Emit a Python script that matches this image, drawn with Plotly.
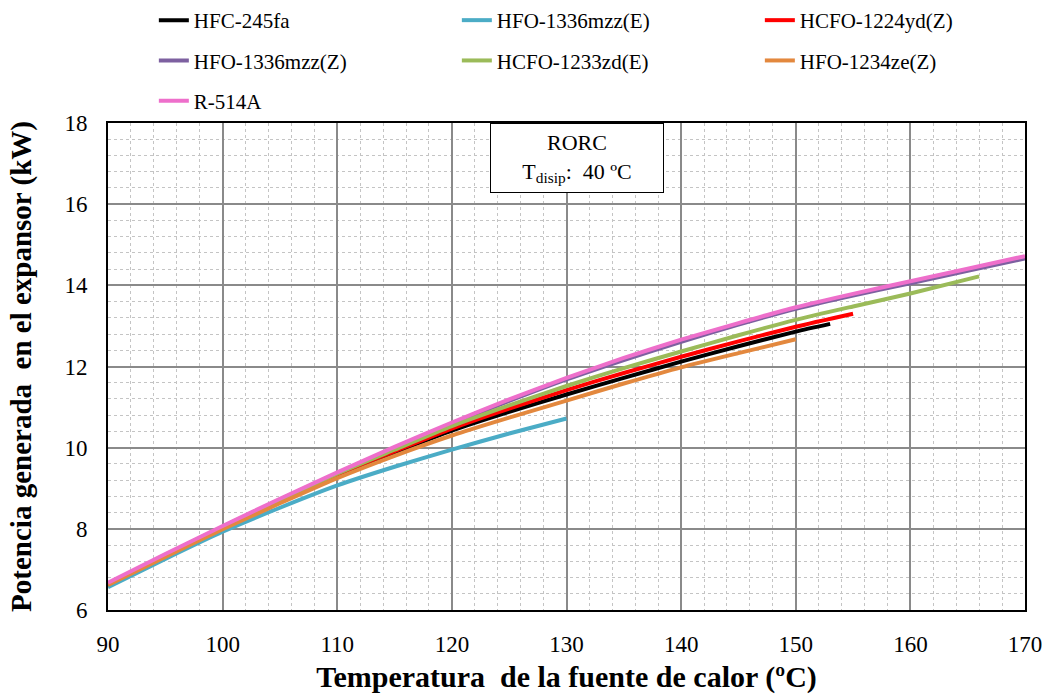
import plotly.graph_objects as go

# Source temperature (°C) and expander power (kW) per working fluid
t_full = [90, 95, 100, 105, 110, 115, 120, 125, 130, 135, 140, 145, 150, 155, 160, 165, 170]

hfc245fa_t = [90, 95, 100, 105, 110, 115, 120, 125, 130, 135, 140, 145, 150, 153]
hfc245fa_w = [6.62, 7.32, 8.00, 8.66, 9.32, 9.88, 10.42, 10.88, 11.31, 11.72, 12.12, 12.50, 12.86, 13.05]

hfo1336e_t = [90, 95, 100, 105, 110, 115, 120, 125, 130]
hfo1336e_w = [6.56, 7.26, 7.93, 8.52, 9.07, 9.53, 9.95, 10.35, 10.72]

hcfo1224_t = [90, 95, 100, 105, 110, 115, 120, 125, 130, 135, 140, 145, 150, 155]
hcfo1224_w = [6.63, 7.33, 8.01, 8.68, 9.34, 9.91, 10.47, 10.96, 11.42, 11.84, 12.24, 12.62, 12.98, 13.30]

hfo1336z_t = t_full
hfo1336z_w = [6.65, 7.36, 8.05, 8.72, 9.37, 9.99, 10.59, 11.15, 11.68, 12.16, 12.61, 13.03, 13.42, 13.75, 14.05, 14.36, 14.66]

hcfo1233_t = [90, 95, 100, 105, 110, 115, 120, 125, 130, 135, 140, 145, 150, 155, 160, 166]
hcfo1233_w = [6.64, 7.34, 8.02, 8.69, 9.36, 9.95, 10.53, 11.04, 11.52, 11.96, 12.37, 12.77, 13.15, 13.48, 13.80, 14.22]

hfo1234ze_t = [90, 95, 100, 105, 110, 115, 120, 125, 130, 135, 140, 145, 150]
hfo1234ze_w = [6.62, 7.31, 7.99, 8.63, 9.25, 9.80, 10.30, 10.74, 11.16, 11.58, 11.98, 12.33, 12.67]

r514a_t = t_full
r514a_w = [6.67, 7.38, 8.07, 8.74, 9.39, 10.02, 10.62, 11.19, 11.72, 12.21, 12.66, 13.07, 13.46, 13.79, 14.10, 14.41, 14.72]

series = [
    ("HFC-245fa", hfc245fa_t, hfc245fa_w, "#000000"),
    ("HFO-1336mzz(E)", hfo1336e_t, hfo1336e_w, "#4BACC6"),
    ("HCFO-1224yd(Z)", hcfo1224_t, hcfo1224_w, "#FF0000"),
    ("HFO-1336mzz(Z)", hfo1336z_t, hfo1336z_w, "#7D60A0"),
    ("HCFO-1233zd(E)", hcfo1233_t, hcfo1233_w, "#9BBB59"),
    ("HFO-1234ze(Z)", hfo1234ze_t, hfo1234ze_w, "#E3883E"),
    ("R-514A", r514a_t, r514a_w, "#EE6FCB"),
]

serif = "Liberation Serif"

fig = go.Figure()
for name, xs, ys, color in series:
    fig.add_trace(go.Scatter(
        x=xs, y=ys, name=name, mode="lines", legendgroup=name,
        line=dict(color=color, width=4, shape="spline", smoothing=0.6),
    ))

fig.update_layout(
    width=1049, height=694,
    margin=dict(l=108, r=24, t=123, b=84, autoexpand=False),
    paper_bgcolor="white", plot_bgcolor="white",
    font=dict(family=serif, color="black", size=22),
    showlegend=True,
    legend=dict(
        orientation="h", x=0.05, y=1.0, xref="paper", yref="container",
        xanchor="left", yanchor="top",
        entrywidth=258, entrywidthmode="pixels",
        font=dict(family=serif, size=21, color="black"),
        itemwidth=30, tracegroupgap=10, bgcolor="rgba(0,0,0,0)",
        traceorder="grouped",
    ),
    xaxis=dict(
        range=[90, 170], dtick=10, tick0=90,
        showgrid=True, gridcolor="#8a8a8a", gridwidth=1.5,
        minor=dict(dtick=2, showgrid=True, gridcolor="#c4c4c4", griddash="dot", gridwidth=1),
        showline=True, linecolor="black", linewidth=2, mirror=True,
        ticks="", ticklabelstandoff=12, zeroline=False,
        tickfont=dict(family=serif, size=23),
        title=dict(text="<b>Temperatura  de la fuente de calor (ºC)</b>",
                   font=dict(family=serif, size=30), standoff=12),
    ),
    yaxis=dict(
        range=[6, 18], dtick=2, tick0=6,
        showgrid=True, gridcolor="#8a8a8a", gridwidth=1.5,
        minor=dict(dtick=0.4, showgrid=True, gridcolor="#c4c4c4", griddash="dot", gridwidth=1),
        showline=True, linecolor="black", linewidth=2, mirror=True,
        ticks="", ticklabelstandoff=14, zeroline=False,
        tickfont=dict(family=serif, size=23),
        title=dict(text="<b>Potencia generada  en el expansor (kW)</b>",
                   font=dict(family=serif, size=29), standoff=24),
    ),
)

fig.add_annotation(
    x=0.5115, y=1.0, xref="paper", yref="paper", xanchor="center", yanchor="top",
    text="RORC<br>T<sub>disip</sub>:  40 ºC", showarrow=False,
    font=dict(family=serif, size=22, color="black"),
    align="center", bgcolor="white", bordercolor="black", borderwidth=1,
    borderpad=6, width=160,
)

fig.write_html("out.html")
